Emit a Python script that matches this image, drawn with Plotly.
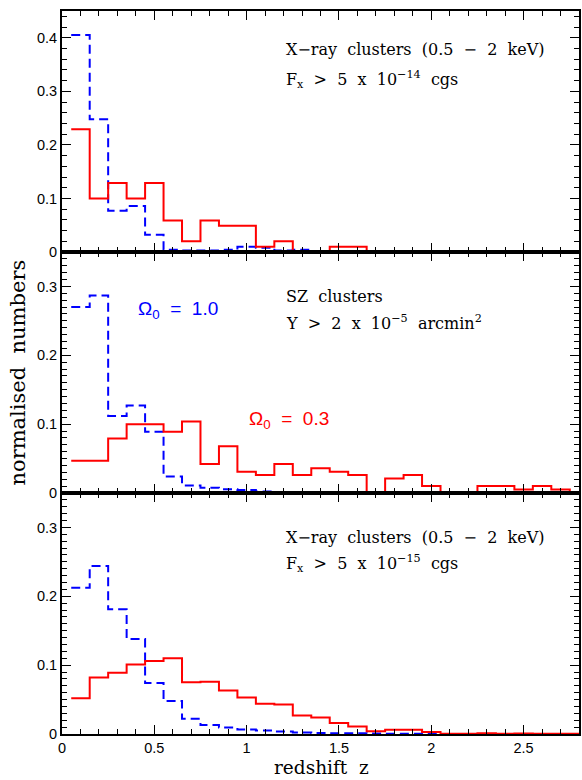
import plotly.graph_objects as go
from plotly.subplots import make_subplots

# bin centres (redshift), bin width 0.1
z_centres = [0.1, 0.2, 0.3, 0.4, 0.5, 0.6, 0.7, 0.8, 0.9, 1.0, 1.1, 1.2, 1.3, 1.4,
             1.5, 1.6, 1.7, 1.8, 1.9, 2.0, 2.1, 2.2, 2.3, 2.4, 2.5, 2.6, 2.7, 2.8]
bin_width = 0.1

# Panel 1: X-ray clusters, Fx > 5e-14
xray14_open = [0.229, 0.100, 0.129, 0.100, 0.129, 0.059, 0.020, 0.059, 0.049, 0.049,
               0.010, 0.020, 0.0, 0.0, 0.010, 0.010, 0.0]
xray14_flat = [0.405, 0.248, 0.077, 0.086, 0.032, 0.004, 0.003, 0.003, 0.004, 0.010,
               0.008, 0.003, 0.004, 0.0]

# Panel 2: SZ clusters, Y > 2e-5 arcmin^2
sz_open = [0.047, 0.047, 0.079, 0.100, 0.100, 0.089, 0.104, 0.042, 0.068, 0.031,
           0.026, 0.042, 0.026, 0.036, 0.031, 0.026, 0.0, 0.021, 0.026, 0.010,
           0.0, 0.0, 0.010, 0.010, 0.005, 0.010, 0.005, 0.0]
sz_flat = [0.270, 0.287, 0.112, 0.127, 0.089, 0.024, 0.011, 0.0075, 0.0055, 0.0045,
           0.002, 0.001, 0.001, 0.0005, 0.0]

# Panel 3: X-ray clusters, Fx > 5e-15
xray15_open = [0.052, 0.082, 0.089, 0.101, 0.106, 0.110, 0.075, 0.076, 0.063, 0.053,
               0.044, 0.043, 0.027, 0.024, 0.016, 0.011, 0.004, 0.006, 0.006, 0.003,
               0.0005, 0.0005, 0.001, 0.0005, 0.0008, 0.0005, 0.0005, 0.0005]
xray15_flat = [0.2125, 0.244, 0.181, 0.138, 0.074, 0.048, 0.022, 0.013, 0.0096, 0.0067,
               0.005, 0.0035, 0.002, 0.0015, 0.001, 0.001, 0.0008, 0.0005, 0.0005, 0.0003]

x_tickvals = [0, 0.5, 1, 1.5, 2, 2.5]
x_ticktext = ["0", "0.5", "1", "1.5", "2", "2.5"]
y_ticks_top = [0, 0.1, 0.2, 0.3, 0.4]
y_ticks_other = [0, 0.1, 0.2, 0.3]

RED = "#ff0000"
BLUE = "#0000ff"
SERIF = "DejaVu Serif"
SANS = "Liberation Sans"


def step_xy(values):
    n = len(values)
    xs = [round(z_centres[i] - bin_width / 2, 3) for i in range(n)]
    xs.append(round(z_centres[n - 1] + bin_width / 2, 3))
    ys = list(values) + [values[-1]]
    return xs, ys


fig = make_subplots(rows=3, cols=1, shared_xaxes=True, vertical_spacing=0)

panels = [(xray14_flat, xray14_open), (sz_flat, sz_open), (xray15_flat, xray15_open)]
for r, (flat, opn) in enumerate(panels, start=1):
    xs, ys = step_xy(flat)
    fig.add_trace(go.Scatter(x=xs, y=ys, mode="lines", line_shape="hv",
                             line=dict(color=BLUE, width=2, dash="9px,5px"),
                             showlegend=False, hoverinfo="skip"), row=r, col=1)
    xs, ys = step_xy(opn)
    fig.add_trace(go.Scatter(x=xs, y=ys, mode="lines", line_shape="hv",
                             line=dict(color=RED, width=2),
                             showlegend=False, hoverinfo="skip"), row=r, col=1)

axis_common = dict(showline=True, linewidth=2, linecolor="black", mirror="ticks",
                   ticks="inside", tickcolor="black", tickwidth=1.3, ticklen=9,
                   showgrid=False, zeroline=False,
                   tickfont=dict(family=SANS, size=14.5, color="black"))

for r in range(1, 4):
    fig.update_xaxes(range=[0, 2.8], tickvals=x_tickvals, ticktext=x_ticktext,
                     minor=dict(ticks="inside", dtick=0.1, tick0=0, ticklen=5,
                                tickcolor="black", tickwidth=1.3, showgrid=False),
                     showticklabels=(r == 3), row=r, col=1, **axis_common)

fig.update_yaxes(range=[0, 0.45], tickvals=y_ticks_top,
                 ticktext=["0", "0.1", "0.2", "0.3", "0.4"],
                 minor=dict(ticks="inside", dtick=0.02, tick0=0, ticklen=5,
                            tickcolor="black", tickwidth=1.3, showgrid=False),
                 row=1, col=1, **axis_common)
for r in (2, 3):
    fig.update_yaxes(range=[0, 0.35], tickvals=y_ticks_other,
                     ticktext=["0", "0.1", "0.2", "0.3"],
                     minor=dict(ticks="inside", dtick=0.01, tick0=0, ticklen=5,
                                tickcolor="black", tickwidth=1.3, showgrid=False),
                     row=r, col=1, **axis_common)

S = "\u00a0\u00a0"  # wide word gap
ann = []


def label(text, x, y, xref, yref, family=SERIF, size=16, color="black"):
    ann.append(dict(text=text, x=x, y=y, xref=xref, yref=yref, xanchor="left",
                    yanchor="middle", showarrow=False,
                    font=dict(family=family, size=size, color=color)))


xray_title = S.join(["X\u2212ray", "clusters", "(0.5", "\u2212", "2", "keV)"])
label(xray_title, 1.2, 0.378, "x", "y")
label(S.join(["F<sub>x</sub>", ">", "5", "x", "10<sup>\u221214</sup>", "cgs"]),
      1.2, 0.322, "x", "y")
label(S.join(["SZ", "clusters"]), 1.2, 0.286, "x2", "y2")
label(S.join(["Y", ">", "2", "x", "10<sup>\u22125</sup>", "arcmin<sup>2</sup>"]),
      1.2, 0.247, "x2", "y2")
label(S.join(["\u03a9<sub>0</sub>", "=", "1.0"]), 0.40, 0.266, "x2", "y2",
      family=SANS, size=19, color=BLUE)
label(S.join(["\u03a9<sub>0</sub>", "=", "0.3"]), 1.0, 0.106, "x2", "y2",
      family=SANS, size=19, color=RED)
label(xray_title, 1.2, 0.286, "x3", "y3")
label(S.join(["F<sub>x</sub>", ">", "5", "x", "10<sup>\u221215</sup>", "cgs"]),
      1.2, 0.247, "x3", "y3")

ann.append(dict(text="normalised" + S + "numbers", x=-0.087, y=0.5, xref="paper",
                yref="paper", xanchor="center", yanchor="middle", textangle=-90,
                showarrow=False, font=dict(family=SERIF, size=21, color="black")))
ann.append(dict(text="redshift" + S + "z", x=0.501, y=-0.0636, xref="paper",
                yref="paper", xanchor="center", yanchor="bottom", showarrow=False,
                font=dict(family=SERIF, size=18.5, color="black")))

fig.update_layout(width=582, height=780, margin=dict(l=62, r=1, t=11, b=46),
                  plot_bgcolor="white", paper_bgcolor="white", annotations=ann,
                  showlegend=False)

fig.write_html("out.html")
